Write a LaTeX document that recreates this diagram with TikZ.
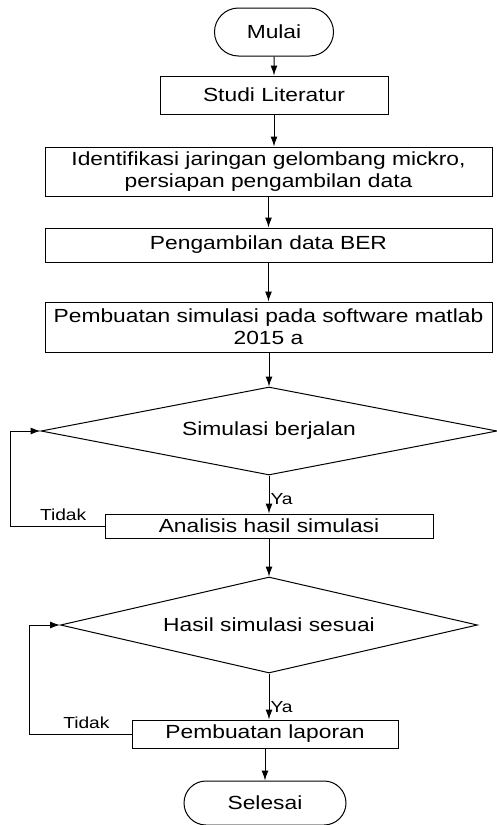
\documentclass[tikz,border=0pt]{standalone}
\usepackage{fontspec}
\setmainfont{Liberation Sans}[FakeStretch=1.2]
\usepackage{tikz}
\usetikzlibrary{shapes, shapes.geometric, shapes.misc, arrows.meta, positioning}

\tikzset{
  terminal/.style={rounded rectangle, draw, inner sep=0pt},
  process/.style={rectangle, draw, inner sep=0pt, align=center},
  decision/.style={diamond, draw, inner sep=0pt},
  lbl/.style={font=\fontsize{16}{18}\selectfont, inner sep=1pt},
}

\begin{document}
\begin{tikzpicture}[x=1pt, y=1pt, >={Latex[length=10pt,width=7pt]}, on grid,
    font=\fontsize{19}{22}\selectfont, line width=1pt]
        \useasboundingbox (0,0) rectangle (496,-825);
        \node[terminal, minimum width=119pt, minimum height=48pt] (mulai) at (274,-32) {Mulai};
        \node[process, minimum width=228pt, minimum height=38pt] (studi) [below=63pt of mulai] {Studi Literatur};
        \node[process, minimum width=447pt, minimum height=49pt] (ident) [below=76.5pt of studi, xshift=-5.5pt]
            {Identifikasi jaringan gelombang mickro,\\persiapan pengambilan data};
        \node[process, minimum width=447pt, minimum height=34pt] (ber) [below=73.5pt of ident] {Pengambilan data BER};
        \node[process, minimum width=447pt, minimum height=50pt] (sim) [below=82pt of ber]
            {Pembuatan simulasi pada software matlab\\2015 a};
        \node[decision, shape aspect=5.2, minimum width=456pt, minimum height=88pt] (cek1) [below=104pt of sim, xshift=0.5pt] {Simulasi berjalan};
        \node[process, minimum width=328pt, minimum height=24pt] (analisis) [below=95pt of cek1] {Analisis hasil simulasi};
        \node[decision, shape aspect=4.3, minimum width=417pt, minimum height=96pt] (cek2) [below=99pt of analisis] {Hasil simulasi sesuai};
        \node[process, minimum width=266pt, minimum height=28pt] (laporan) [below=109pt of cek2, xshift=-4pt] {Pembuatan laporan};
        \node[terminal, minimum width=162pt, minimum height=44pt] (selesai) [below=69pt of laporan] {Selesai};

        \coordinate (back1) at ([xshift=-30pt]cek1.west);
        \coordinate (back2) at ([xshift=-31pt]cek2.west);

        \draw[->] (mulai) -- (studi);
        \draw[->] (studi.south) -- (studi.south |- ident.north);
        \draw[->] (ident) -- (ber);
        \draw[->] (ber) -- (sim);
        \draw[->] (sim.south) -- (sim.south -| cek1.north) -- (cek1.north);
        \draw[->] (cek1) -- node[lbl, right, pos=0.62] {Ya} (analisis);
        \draw[->] (analisis.west) -| node[lbl, above=4pt, pos=0.22] {Tidak} (back1) -- (cek1.west);
        \draw[->] (analisis) -- (cek2);
        \draw[->] (cek2.south) -- node[lbl, right, pos=0.72] {Ya} (cek2.south |- laporan.north);
        \draw[->] (laporan.west) -| node[lbl, above=4pt, pos=0.22] {Tidak} (back2) -- (cek2.west);
        \draw[->] (laporan) -- (selesai);
\end{tikzpicture}
\end{document}
